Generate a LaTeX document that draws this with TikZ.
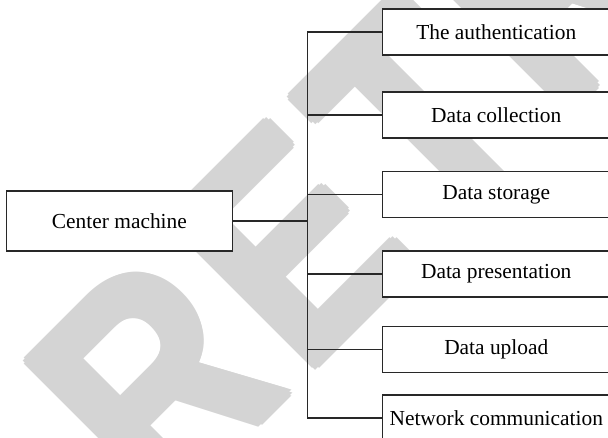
\documentclass[tikz,border=0pt]{standalone}
\usepackage{fontspec}
\setmainfont{Liberation Serif}
\newfontfamily\wmfont{Liberation Sans}
\definecolor{wm}{RGB}{212,212,212}
\definecolor{ln}{RGB}{40,40,40}
\newcommand{\wmk}{\kern20pt}
\begin{document}
\begin{tikzpicture}[x=1pt,y=-1pt,
  wmtext/.style={rotate=45, anchor=base west, inner sep=0pt, text=wm, font=\wmfont\bfseries\fontsize{301}{301}\selectfont},
  box/.style={draw=ln, line width=1.3pt, fill=white, minimum height=46pt, inner sep=0pt, font=\fontsize{21.4}{24}\selectfont},
  leaf/.style={box, minimum width=227.5pt},
  conn/.style={draw=ln, line width=1.2pt}]
\useasboundingbox (0,0) rectangle (608,438);
\clip (0,0) rectangle (608,438);
\foreach \dx/\dy [count=\i] in {0/0, 4.5/0, -4.5/0, 0/4.5, 0/-4.5, 3.2/3.2, 3.2/-3.2, -3.2/3.2, -3.2/-3.2} {
  \node[wmtext] (wm\i) at (161.7+\dx, 519.7+\dy) {\scalebox{0.847}[1]{R\wmk E\wmk T\wmk R\wmk A\wmk C\wmk T\wmk E\wmk D}};
}
\node[box, minimum width=226.4pt, minimum height=60pt] (c) at (119.4,221) {Center machine};
\node[leaf] (l1) at (496.25,32) {The authentication};
\node[leaf] (l2) at (496.25,115) {Data collection};
\node[leaf] (l3) at (496.25,194.5) {Data storage};
\node[leaf] (l4) at (496.25,274) {Data presentation};
\node[leaf] (l5) at (496.25,349.5) {Data upload};
\node[leaf] (l6) at (496.25,418) {Network communication};
\coordinate (t) at (307.5,221);
\draw[conn] (c.east) -- (t);
\foreach \k in {1,...,6} {\draw[conn] (l\k.west) -| (t);}
\end{tikzpicture}
\end{document}
